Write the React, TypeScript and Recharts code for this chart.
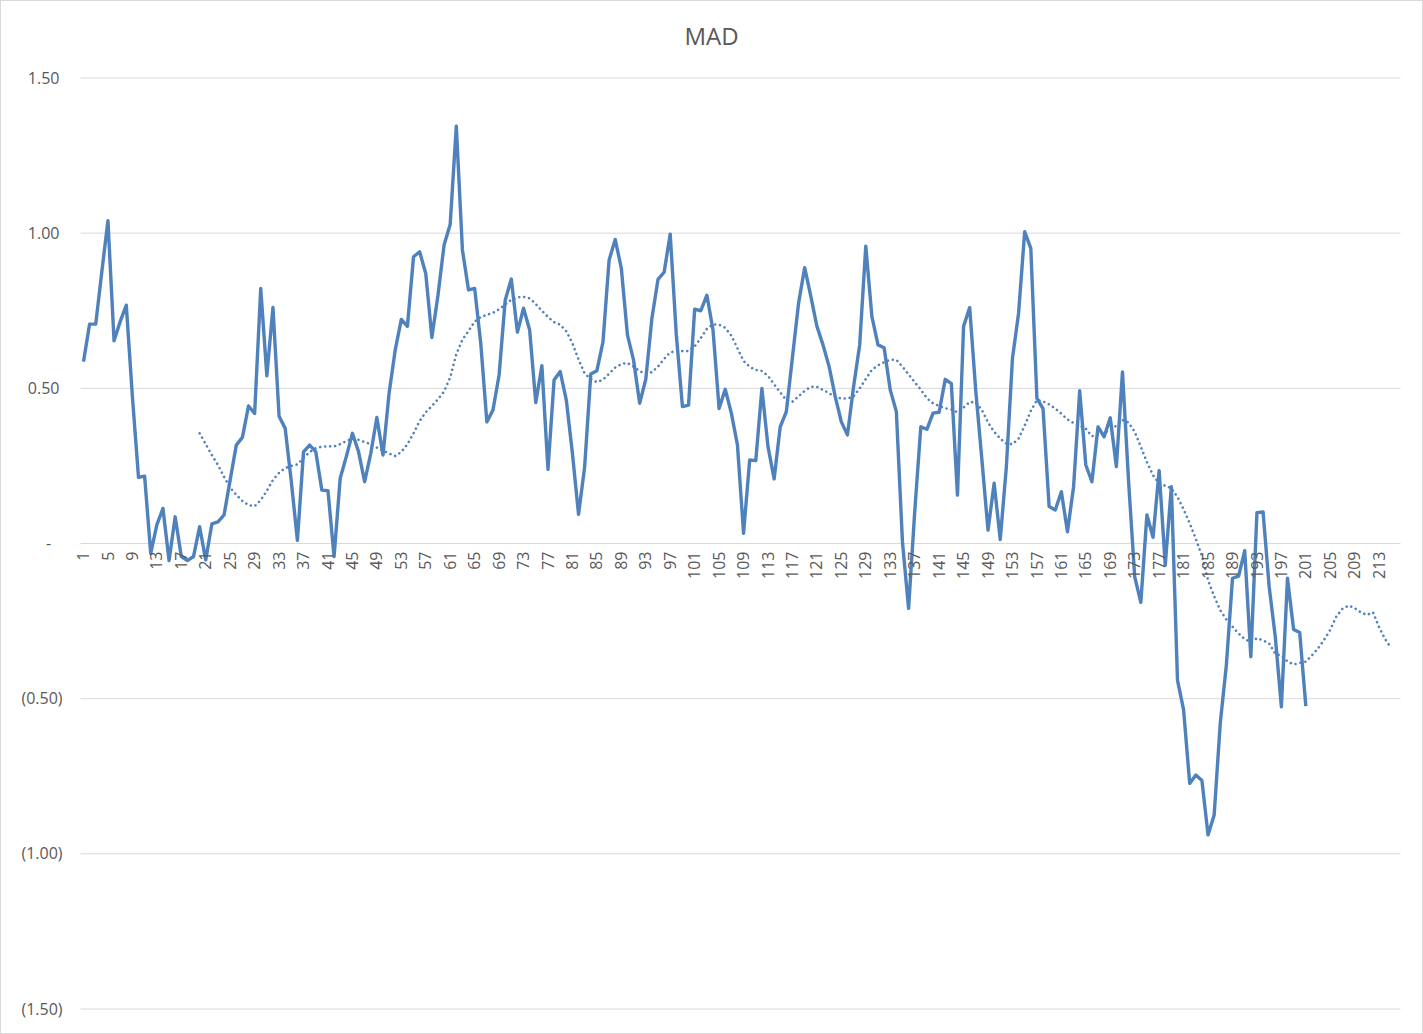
import { LineChart, Line, XAxis, YAxis, CartesianGrid } from 'recharts';

// MAD per period, periods 1..201
const mad = [
  0.586, 0.707, 0.707, 0.876, 1.04, 0.653, 0.715, 0.768, 0.473, 0.213,
  0.217, -0.032, 0.06, 0.113, -0.055, 0.086, -0.042, -0.055, -0.042, 0.054,
  -0.053, 0.063, 0.07, 0.092, 0.205, 0.317, 0.342, 0.443, 0.419, 0.822,
  0.54, 0.761, 0.41, 0.371, 0.2, 0.01, 0.295, 0.317, 0.296, 0.172,
  0.17, -0.042, 0.21, 0.28, 0.355, 0.296, 0.199, 0.29, 0.406, 0.285,
  0.484, 0.623, 0.722, 0.7, 0.924, 0.94, 0.87, 0.664, 0.8, 0.962,
  1.029, 1.345, 0.946, 0.817, 0.822, 0.645, 0.392, 0.43, 0.543, 0.784,
  0.852, 0.681, 0.758, 0.688, 0.454, 0.573, 0.239, 0.527, 0.554, 0.462,
  0.29, 0.094, 0.247, 0.546, 0.557, 0.65, 0.913, 0.98, 0.887, 0.672,
  0.591, 0.452, 0.529, 0.725, 0.851, 0.874, 0.997, 0.672, 0.441, 0.446,
  0.755, 0.75, 0.8, 0.688, 0.435, 0.497, 0.42, 0.318, 0.033, 0.269,
  0.267, 0.5, 0.312, 0.208, 0.376, 0.425, 0.6, 0.774, 0.889, 0.797,
  0.7, 0.64, 0.57, 0.473, 0.392, 0.35, 0.505, 0.64, 0.958, 0.731,
  0.64, 0.631, 0.495, 0.425, 0.005, -0.209, 0.1, 0.376, 0.368, 0.42,
  0.423, 0.529, 0.515, 0.156, 0.7, 0.76, 0.49, 0.269, 0.043, 0.194,
  0.013, 0.247, 0.597, 0.742, 1.005, 0.951, 0.468, 0.435, 0.119, 0.108,
  0.167, 0.038, 0.183, 0.492, 0.253, 0.199, 0.376, 0.344, 0.405, 0.248,
  0.553, 0.2, -0.107, -0.19, 0.092, 0.02, 0.235, -0.07, 0.183, -0.44,
  -0.536, -0.773, -0.746, -0.764, -0.939, -0.875, -0.579, -0.391, -0.112, -0.105,
  -0.023, -0.365, 0.099, 0.102, -0.139, -0.3, -0.526, -0.112, -0.277, -0.287,
  -0.524,
];

// dotted trend, periods 20..215
const TREND_START = 20;
const trend = [
  0.355, 0.32, 0.285, 0.253, 0.215, 0.18, 0.157, 0.137, 0.124, 0.12,
  0.14, 0.17, 0.205, 0.228, 0.243, 0.25, 0.255, 0.275, 0.295, 0.307,
  0.312, 0.313, 0.313, 0.32, 0.33, 0.338, 0.334, 0.327, 0.32, 0.309,
  0.299, 0.29, 0.282, 0.295, 0.32, 0.355, 0.395, 0.423, 0.443, 0.465,
  0.49, 0.535, 0.61, 0.657, 0.685, 0.715, 0.73, 0.737, 0.743, 0.755,
  0.77, 0.786, 0.793, 0.795, 0.79, 0.772, 0.75, 0.73, 0.713, 0.705,
  0.684, 0.645, 0.593, 0.548, 0.53, 0.52, 0.528, 0.547, 0.567, 0.578,
  0.582, 0.57, 0.555, 0.548, 0.552, 0.57, 0.595, 0.616, 0.62, 0.62,
  0.62, 0.635, 0.662, 0.692, 0.706, 0.705, 0.695, 0.67, 0.629, 0.588,
  0.57, 0.559, 0.556, 0.54, 0.513, 0.487, 0.462, 0.457, 0.474, 0.492,
  0.505, 0.505, 0.495, 0.484, 0.473, 0.467, 0.467, 0.474, 0.5, 0.53,
  0.56, 0.574, 0.584, 0.592, 0.592, 0.57, 0.545, 0.52, 0.496, 0.468,
  0.452, 0.443, 0.436, 0.432, 0.423, 0.438, 0.456, 0.455, 0.43, 0.39,
  0.36, 0.338, 0.322, 0.32, 0.338, 0.38, 0.427, 0.462, 0.458, 0.448,
  0.435, 0.418, 0.4, 0.388, 0.38, 0.37, 0.346, 0.35, 0.357, 0.366,
  0.38, 0.398, 0.39, 0.36, 0.312, 0.262, 0.22, 0.194, 0.186, 0.178,
  0.15, 0.11, 0.065, 0.015, -0.04, -0.118, -0.17, -0.215, -0.245, -0.268,
  -0.29, -0.308, -0.318, -0.305, -0.312, -0.322, -0.355, -0.362, -0.38, -0.39,
  -0.385, -0.381, -0.36, -0.338, -0.31, -0.278, -0.235, -0.21, -0.2, -0.208,
  -0.222, -0.23, -0.222, -0.27, -0.309, -0.338,
];

const PERIODS = 216;
const yTicks = [-1.5, -1, -0.5, 0, 0.5, 1, 1.5];

const periods = Array.from({ length: PERIODS }, (_, i) => i + 1);
const data = periods.map((p) => ({
  period: p,
  mad: p <= mad.length ? mad[p - 1] : null,
  trend: p >= TREND_START && p - TREND_START < trend.length ? trend[p - TREND_START] : null,
}));

const W = 1421;
const H = 1032;
const TOP = 77;
const BOTTOM = 24;
const X_AXIS_H = 20;
const ZERO_Y = TOP + (H - TOP - BOTTOM) / 2;
const BLUE = '#4F81BD';
const GREY = '#595959';
const FONT = '"Open Sans", "Noto Sans", sans-serif';

const fmt = (v: number) => {
  if (v === 0) return '-';
  if (v < 0) return `(${Math.abs(v).toFixed(2)})`;
  return v.toFixed(2);
};

const YTick = ({ x, y, payload }: any) => {
  const v = payload.value;
  const ax = v === 0 ? x - 11 : v < 0 ? x + 3 : x;
  return (
    <text x={ax} y={y} dy="0.35em" textAnchor={v === 0 ? 'middle' : 'end'} fill={GREY} fontSize={16} fontFamily={FONT}>
      {fmt(v)}
    </text>
  );
};

// category labels sit under the zero line, as in Excel
const XTick = ({ x, payload }: any) => (
  <text
    x={x}
    y={ZERO_Y + 8}
    dy="0.35em"
    transform={`rotate(-90, ${x}, ${ZERO_Y + 8})`}
    textAnchor="end"
    fill={GREY}
    fontSize={16}
    fontFamily={FONT}
  >
    {payload.value}
  </text>
);

export default function App() {
  return (
    <div style={{ position: 'absolute', left: 0, top: 0, width: W, height: H, border: '1px solid #d9d9d9', background: '#fff', fontFamily: FONT }}>
      <div style={{ position: 'absolute', left: 0, top: 22, width: W, textAlign: 'center', fontSize: 24, lineHeight: '26px', color: GREY }}>
        MAD
      </div>
      <LineChart width={W} height={H} data={data} margin={{ top: TOP, right: 21.5, bottom: BOTTOM - X_AXIS_H, left: 0 }}>
        <CartesianGrid vertical={false} stroke="#d9d9d9" />
        <XAxis
          dataKey="period"
          interval={3}
          height={X_AXIS_H}
          padding={{ left: 3, right: 3 }}
          axisLine={false}
          tickLine={false}
          tick={<XTick />}
        />
        <YAxis
          width={79.5}
          domain={[-1.5, 1.5]}
          ticks={yTicks}
          axisLine={false}
          tickLine={false}
          tickSize={0}
          tickMargin={21}
          tick={<YTick />}
        />
        <Line
          type="linear"
          dataKey="trend"
          stroke={BLUE}
          strokeWidth={2.6}
          strokeDasharray="0.01 5"
          strokeLinecap="round"
          dot={false}
          isAnimationActive={false}
        />
        <Line
          type="linear"
          dataKey="mad"
          stroke={BLUE}
          strokeWidth={3.4}
          strokeLinejoin="round"
          dot={false}
          isAnimationActive={false}
        />
      </LineChart>
    </div>
  );
}
